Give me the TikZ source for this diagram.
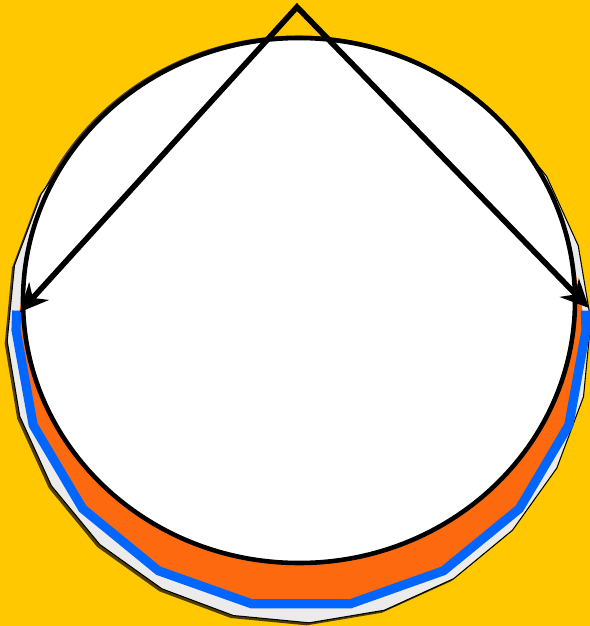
\documentclass[tikz,border=0pt]{standalone}
\usetikzlibrary{arrows.meta}
\definecolor{bgyellow}{RGB}{255, 200, 0}
\definecolor{rimorange}{RGB}{252, 105, 14}
\definecolor{bandblue}{RGB}{0, 102, 255}
\definecolor{rimgray}{RGB}{235, 235, 235}
\definecolor{shadowbrown}{RGB}{77, 62, 0}

\begin{document}
\begin{tikzpicture}[
    x=0.02cm, y=-0.02cm,
    shadow/.style={fill=shadowbrown},
    rim/.style={fill=rimgray, draw=black, line width=0.6pt},
    band/.style={draw=bandblue, line width=5.2pt},
    face/.style={fill=white, draw=black, line width=2.6pt},
    pointer/.style={draw=black, line width=3.2pt, line join=miter, <->, >={Stealth[length=16pt, width=15pt]}}
  ]
  \useasboundingbox[fill=bgyellow] (0,0) rectangle (590,626);
  \clip (0,0) rectangle (590,626);

  % shadows
  \fill[shadow, shift={(-2.5,2.5)}] plot[samples at={-2,13,...,343}] ({299+292*cos(\x)},{331+292*sin(\x)}) -- cycle;
  \fill[shadow] (297.5,301) ellipse [x radius=279, y radius=265.5];

  % rim layers
  \filldraw[rim] plot[samples at={-2,13,...,343}] ({299+292*cos(\x)},{331+292*sin(\x)}) -- cycle;
  \fill[rimorange] plot[samples at={0,20,...,340}] ({301+285*cos(\x)},{330+278*sin(\x)}) -- cycle;
  \draw[band] plot[samples at={-4,0,20,40,60,80,100,120,140,160,180,184}] ({301+285*cos(\x)},{330+278*sin(\x)});

  % face
  \filldraw[face] (299,300.5) ellipse [x radius=276, y radius=262.5];

  % pointers
  \coordinate (apex) at (297,7);
  \coordinate (lefttip) at (20,312);
  \coordinate (righttip) at (589,308);
  \draw[pointer] (lefttip) -- (apex) -- (righttip);
\end{tikzpicture}
\end{document}
